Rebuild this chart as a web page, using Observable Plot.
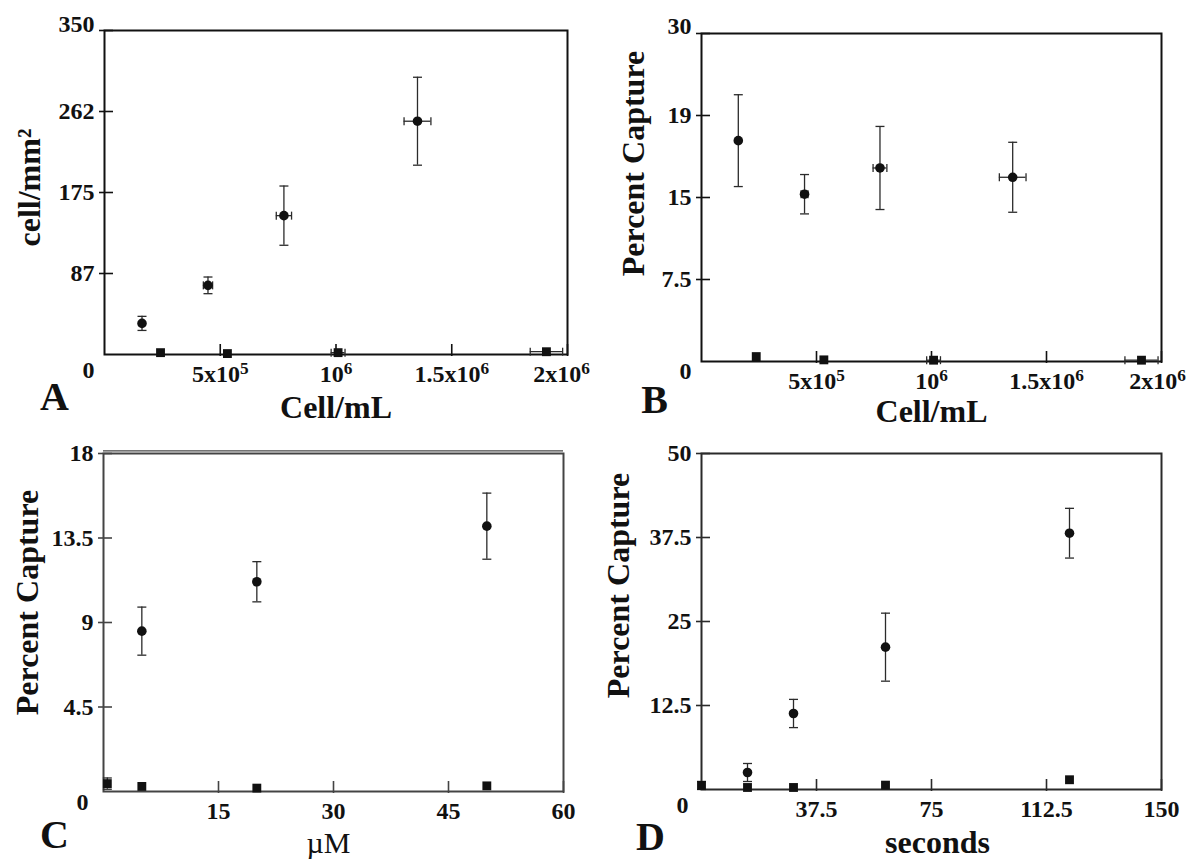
<!DOCTYPE html>
<html><head><meta charset="utf-8">
<script src="https://cdn.jsdelivr.net/npm/d3@7"></script>
<script src="https://cdn.jsdelivr.net/npm/@observablehq/plot@0.6"></script>
<style>
body{margin:0;background:#fff;}
#fig{position:relative;width:1194px;height:863px;overflow:hidden;background:#fff;}
#fig svg{position:absolute;overflow:visible;}
</style></head><body><div id="fig"></div>
<script>
// ---------- Panel A ----------
const aCircleX = [162000, 447000, 775000, 1352000];
const aCircleY = [33.6, 74.7, 150, 252];
const aCircleYErr = [7.6, 9, 32, 47.5];
const aCircleXErr = [0, 20000, 33000, 58000];
const aSquareX = [242000, 531000, 1009000, 1909000];
const aSquareY = [2, 1, 2, 3];
const aSquareYErr = [0, 0, 0, 0];
const aSquareXErr = [0, 0, 30000, 70000];
const aYTicks = [87.5, 175, 262.5, 350];
const aYTickLabels = ["87", "175", "262", "350"];

// ---------- Panel B ----------
const bCircleX = [160000, 448000, 776000, 1353000];
const bCircleY = [20.2, 15.3, 17.7, 16.85];
const bCircleYErr = [4.2, 1.8, 3.8, 3.2];
const bCircleXErr = [0, 15000, 30000, 58000];
const bSquareX = [238000, 532000, 1009000, 1913000];
const bSquareY = [0.45, 0.15, 0.12, 0.12];
const bSquareYErr = [0, 0, 0, 0];
const bSquareXErr = [0, 0, 30000, 72000];
const bYTicks = [7.5, 15, 22.5, 30];
const bYTickLabels = ["7.5", "15", "19", "30"];

// shared x ticks for A and B
const cellTicks = [500000, 1000000, 1500000, 2000000];
const cellTickLabels = ["5x10^5", "10^6", "1.5x10^6", "2x10^6"];

// ---------- Panel C ----------
const cCircleX = [5, 20, 50];
const cCircleY = [8.54, 11.17, 14.13];
const cCircleYErr = [1.28, 1.07, 1.76];
const cSquareX = [0.5, 5, 20, 50];
const cSquareY = [0.42, 0.27, 0.18, 0.3];
const cSquareYErr = [0.3, 0, 0, 0];
const cXTicks = [15, 30, 45, 60];
const cXTickLabels = ["15", "30", "45", "60"];
const cYTicks = [4.5, 9, 13.5, 18];
const cYTickLabels = ["4.5", "9", "13.5", "18"];

// ---------- Panel D ----------
const dCircleX = [15, 30, 60, 120];
const dCircleY = [2.53, 11.31, 21.18, 38.14];
const dCircleYErr = [1.34, 2.1, 5.06, 3.7];
const dSquareX = [0, 15, 30, 60, 120];
const dSquareY = [0.6, 0.3, 0.3, 0.65, 1.45];
const dSquareYErr = [0.6, 0, 0, 0, 0];
const dXTicks = [37.5, 75, 112.5, 150];
const dXTickLabels = ["37.5", "75", "112.5", "150"];
const dYTicks = [12.5, 25, 37.5, 50];
const dYTickLabels = ["12.5", "25", "37.5", "50"];

const hbar = {draw(ctx, size) { const r = Math.sqrt(size / Math.PI); ctx.moveTo(-r, 0); ctx.lineTo(r, 0); }};
const vbar = {draw(ctx, size) { const r = Math.sqrt(size / Math.PI); ctx.moveTo(0, -r); ctx.lineTo(0, r); }};

function rows(xs, ys, yes, xes) {
  return xs.map((x, i) => ({x, y: ys[i], ye: yes ? yes[i] : 0, xe: xes ? xes[i] : 0}));
}

function panel(c) {
  const innerW = c.width - c.ml - c.mr, innerH = c.height - c.mt - c.mb;
  const circles = rows(c.cx, c.cy, c.cye, c.cxe);
  const squares = rows(c.sx, c.sy, c.sye, c.sxe);
  const pts = circles.concat(squares);
  const yErr = pts.filter(d => d.ye > 0);
  const xErr = pts.filter(d => d.xe > 0);
  const eb = {stroke: "#2b2b2b", strokeWidth: 1.3};
  const yFmt = d => c.yLabels[c.yTicks.indexOf(d)];
  const xFmt = d => c.xLabels[c.xTicks.indexOf(d)];
  const lastX = c.xTicks[c.xTicks.length - 1];
  const lastY = c.yTicks[c.yTicks.length - 1];
  const marks = [
    Plot.frame({stroke: c.frame, strokeWidth: 2}),
    c.doubleTop ? Plot.ruleY([c.yDomain[1]], {stroke: c.frame, strokeWidth: 1.4, dy: -2.6}) : null,
    Plot.tickX(c.xTicks, {x: d => d, insetTop: innerH - 10, insetBottom: -2, stroke: c.frame, strokeWidth: 1.6}),
    Plot.tickY(c.yTicks, {y: d => d, insetLeft: -5, insetRight: innerW - 9, stroke: c.frame, strokeWidth: 1.6}),
    Plot.axisX({ticks: c.xTicks.slice(0, -1), tickFormat: xFmt, tickSize: 0, tickPadding: 10, label: null}),
    Plot.axisX({ticks: [lastX], tickFormat: xFmt, tickSize: 0, tickPadding: 10, label: null, dx: c.lastXdx || 0}),
    Plot.axisY({ticks: c.yTicks.slice(0, -1), tickFormat: yFmt, tickSize: 0, tickPadding: 10, label: null}),
    Plot.axisY({ticks: [lastY], tickFormat: yFmt, tickSize: 0, tickPadding: 10, label: null, dy: c.topDy || 0}),
    Plot.ruleX(yErr, {x: "x", y1: d => d.y - d.ye, y2: d => d.y + d.ye, ...eb}),
    Plot.dot(yErr, {x: "x", y: d => d.y + d.ye, symbol: hbar, r: 4.5, fill: "none", ...eb}),
    Plot.dot(yErr, {x: "x", y: d => d.y - d.ye, symbol: hbar, r: 4.5, fill: "none", ...eb}),
    Plot.ruleY(xErr, {y: "y", x1: d => d.x - d.xe, x2: d => d.x + d.xe, ...eb}),
    Plot.dot(xErr, {x: d => d.x + d.xe, y: "y", symbol: vbar, r: 4, fill: "none", ...eb}),
    Plot.dot(xErr, {x: d => d.x - d.xe, y: "y", symbol: vbar, r: 4, fill: "none", ...eb}),
    Plot.dot(circles, {x: "x", y: "y", r: 4.8, symbol: "circle", fill: "#111", stroke: "none"}),
    Plot.dot(squares, {x: "x", y: "y", r: 5, symbol: "square", fill: "#111", stroke: "none"}),
    Plot.text(["0"], {text: d => d, frameAnchor: "bottom-left", dx: c.zero[0], dy: c.zero[1], textAnchor: "middle", lineAnchor: "middle", fontSize: 24}),
    Plot.text([c.yTitle], {text: d => d, frameAnchor: "left", dx: c.yT[0], dy: c.yT[1], rotate: -90, textAnchor: "middle", lineAnchor: "middle", fontSize: 32, fontWeight: "bold"}),
    Plot.text([c.xTitle], {text: d => d, frameAnchor: "bottom", dx: c.xT[0], dy: c.xT[1], textAnchor: "middle", lineAnchor: "middle", fontSize: c.xTitleSize || 32, fontWeight: c.xTitleWeight || "bold"}),
    Plot.text([c.letter], {text: d => d, frameAnchor: "bottom-left", dx: c.lt[0], dy: c.lt[1], textAnchor: "middle", lineAnchor: "middle", fontSize: 40, fontWeight: "bold"})
  ].filter(Boolean);
  const svg = Plot.plot({
    width: c.width, height: c.height,
    marginLeft: c.ml, marginRight: c.mr, marginTop: c.mt, marginBottom: c.mb,
    x: {type: "linear", domain: c.xDomain},
    y: {type: "linear", domain: c.yDomain},
    style: {fontFamily: "'Liberation Serif', 'DejaVu Serif', serif", fontWeight: "bold", fontSize: "24px", color: "#111", background: "transparent", overflow: "visible"},
    marks
  });
  svg.style.left = c.left + "px";
  svg.style.top = c.top + "px";
  // superscripts for "a^b" labels
  d3.select(svg).selectAll("text").each(function() {
    const t = this.textContent;
    if (t.includes("^") && this.children.length === 0) {
      const [base, sup] = t.split("^");
      this.textContent = "";
      const s = d3.select(this);
      s.append("tspan").text(base);
      s.append("tspan").attr("dy", "-0.45em").attr("font-size", "0.72em").text(sup);
    }
  });
  document.getElementById("fig").appendChild(svg);
}

panel({
  left: 0, top: 0, width: 597, height: 430, ml: 104, mr: 30, mt: 30, mb: 76,
  xDomain: [0, 2000000], yDomain: [0, 350], frame: "#111", topDy: -6, lastXdx: -6,
  cx: aCircleX, cy: aCircleY, cye: aCircleYErr, cxe: aCircleXErr,
  sx: aSquareX, sy: aSquareY, sye: aSquareYErr, sxe: aSquareXErr,
  xTicks: cellTicks, xLabels: cellTickLabels, yTicks: aYTicks, yLabels: aYTickLabels,
  yTitle: "cell/mm²", xTitle: "Cell/mL", letter: "A",
  zero: [-16, 16], yT: [-75, -5], xT: [0, 53], lt: [-50, 43]
});
panel({
  left: 597, top: 0, width: 597, height: 430, ml: 104, mr: 33, mt: 33, mb: 69,
  xDomain: [0, 2000000], yDomain: [0, 30], frame: "#111", topDy: -7, lastXdx: -4,
  cx: bCircleX, cy: bCircleY, cye: bCircleYErr, cxe: bCircleXErr,
  sx: bSquareX, sy: bSquareY, sye: bSquareYErr, sxe: bSquareXErr,
  xTicks: cellTicks, xLabels: cellTickLabels, yTicks: bYTicks, yLabels: bYTickLabels,
  yTitle: "Percent Capture", xTitle: "Cell/mL", letter: "B",
  zero: [-16, 10], yT: [-68, -34], xT: [0, 50], lt: [-47, 39]
});
panel({
  left: 0, top: 430, width: 597, height: 433, ml: 103, mr: 34, mt: 23, mb: 72,
  xDomain: [0, 60], yDomain: [0, 18], frame: "#444", doubleTop: true,
  cx: cCircleX, cy: cCircleY, cye: cCircleYErr, cxe: null,
  sx: cSquareX, sy: cSquareY, sye: cSquareYErr, sxe: null,
  xTicks: cXTicks, xLabels: cXTickLabels, yTicks: cYTicks, yLabels: cYTickLabels,
  yTitle: "Percent Capture", xTitle: "µM", xTitleWeight: "normal", xTitleSize: 30, letter: "C",
  zero: [-21, 11], yT: [-76, -20], xT: [-5, 52], lt: [-49, 44]
});
panel({
  left: 597, top: 430, width: 597, height: 433, ml: 104, mr: 33, mt: 23, mb: 74,
  xDomain: [0, 150], yDomain: [0, 50], frame: "#2a2a2a",
  cx: dCircleX, cy: dCircleY, cye: dCircleYErr, cxe: null,
  sx: dSquareX, sy: dSquareY, sye: dSquareYErr, sxe: null,
  xTicks: dXTicks, xLabels: dXTickLabels, yTicks: dYTicks, yLabels: dYTickLabels,
  yTitle: "Percent Capture", xTitle: "seconds", letter: "D",
  zero: [-19, 16], yT: [-83, -36], xT: [6, 53], lt: [-51, 48]
});
</script></body></html>
